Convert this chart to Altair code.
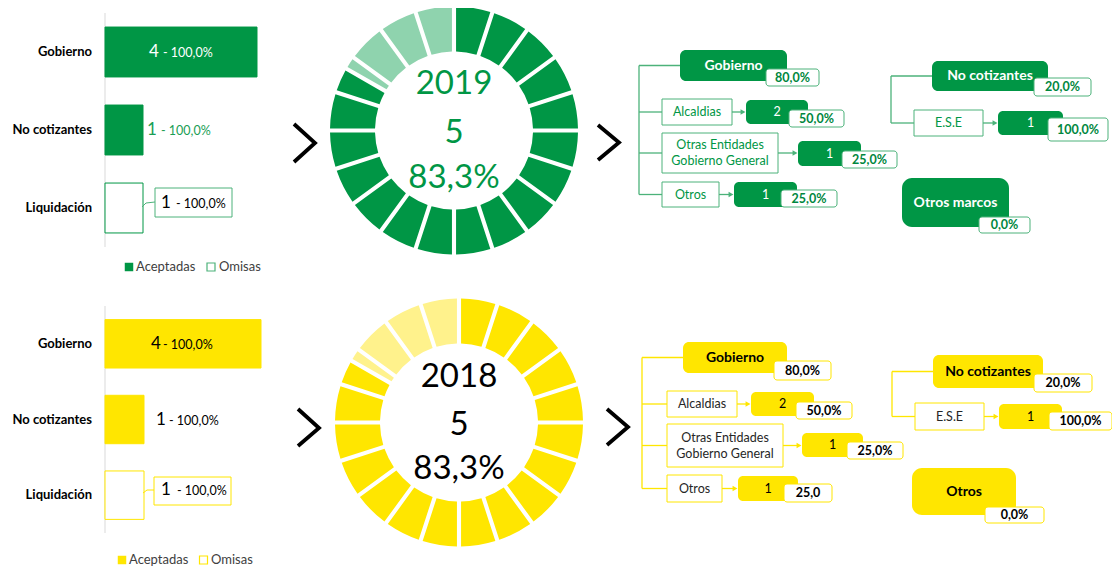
import math
import altair as alt
import pandas as pd

# ---------------- chart values ----------------
years = ["2019", "2018"]
categories = ["Gobierno", "No cotizantes", "Liquidación"]
status = ["Aceptadas", "Aceptadas", "Omisas"]
legend_labels = ["Aceptadas", "Omisas"]
counts = {"2019": [4, 1, 1], "2018": [4, 1, 1]}
shares = {"2019": ["100,0%", "100,0%", "100,0%"], "2018": ["100,0%", "100,0%", "100,0%"]}

donut_total = {"2019": 5, "2018": 5}
donut_rate = {"2019": 83.3, "2018": 83.3}
donut_slots = 20

gob_label = "Gobierno"
gob_share = {"2019": "80,0%", "2018": "80,0%"}
gob_children = ["Alcaldias", "Otras Entidades\nGobierno General", "Otros"]
gob_child_counts = {"2019": [2, 1, 1], "2018": [2, 1, 1]}
gob_child_shares = {"2019": ["50,0%", "25,0%", "25,0%"], "2018": ["50,0%", "25,0%", "25,0"]}
nocot_label = "No cotizantes"
nocot_share = {"2019": "20,0%", "2018": "20,0%"}
nocot_children = ["E.S.E"]
nocot_child_counts = {"2019": [1], "2018": [1]}
nocot_child_shares = {"2019": ["100,0%"], "2018": ["100,0%"]}
other_label = {"2019": "Otros marcos", "2018": "Otros"}
other_share = {"2019": "0,0%", "2018": "0,0%"}

# ---------------- styles ----------------
FONT = "Lato"
STYLE = {
    "2019": dict(main="#009645", light="#8fd3ae", line="#4cb27a", in_txt="white", out_txt="#1a9e55",
                 call_txt="black", center_txt="#009645", node_txt="white", child_txt="#009645",
                 pct_txt="#00873e", val_txt="white"),
    "2018": dict(main="#ffe600", light="#fff28c", line="#ffe600", in_txt="black", out_txt="black",
                 call_txt="black", center_txt="black", node_txt="black", child_txt="#262626",
                 pct_txt="black", val_txt="black"),
}

# ---------------- layout (page pixels) ----------------
LAYOUT = {
    "2019": dict(
        bar_x=(105, 257), bar_y=(13, 247), cat_x=92,
        in_dx=(-32, -18), out_dx=(4, 18), call_dx=(18, 33), call_dy=-5,
        call_box=(155, 188, 232, 217), leader=[(142, 207), (146, 203), (155, 202)],
        legend_y=267, legend_sq=(129, 211), legend_tx=(136, 219),
        donut_c=(454, 130.5), center_dy=(-47, 2, 47),
        chevrons=[[(294, 124), (315, 143), (294, 162)], [(598, 125), (619, 142.5), (598, 160)]],
        gob_box=(680, 50, 787, 81), gob_pct=(766, 69, 819, 86), trunk_x=639,
        child_boxes=[(662, 99, 732, 125), (662, 133, 778, 173), (662, 182, 719, 207)],
        child_vals=[(746, 100, 808, 124), (798, 141, 861, 166), (734, 182, 797, 207)],
        child_pcts=[(789, 110, 844, 127), (842, 151, 897, 168), (781, 190, 837, 207)],
        nocot_box=(932, 61, 1048, 91), nocot_pct=(1034, 78, 1091, 96), nocot_x=891,
        ese_boxes=[(914, 110, 983, 136)], ese_vals=[(998, 111, 1063, 135)],
        ese_pcts=[(1048, 118, 1108, 141)],
        other_box=(902, 178, 1009, 227), other_pct=(979, 217, 1030, 233),
    ),
    "2018": dict(
        bar_x=(105, 261), bar_y=(306, 533), cat_x=92,
        in_dx=(-32, -20), out_dx=(12, 25), call_dx=(17, 33), call_dy=-5,
        call_box=(154, 477, 231, 505), leader=[(143, 493), (147, 490), (154, 490)],
        legend_y=560, legend_sq=(122, 203.5), legend_tx=(129, 211),
        donut_c=(459, 422.5), center_dy=(-46, 2, 46),
        chevrons=[[(298, 409), (319, 428), (298, 446)], [(607, 409), (628, 427), (607, 445)]],
        gob_box=(683, 342, 787, 373), gob_pct=(774, 361, 831, 380), trunk_x=642,
        child_boxes=[(667, 391, 737, 417), (667, 424, 783, 467), (667, 475, 722, 502)],
        child_vals=[(751, 392, 814, 416), (802, 433, 863, 457), (738, 476, 798, 501)],
        child_pcts=[(796, 402, 852, 419), (847, 442, 903, 459), (784, 484, 832, 502)],
        nocot_box=(933, 355, 1043, 388), nocot_pct=(1034, 374, 1092, 392), nocot_x=892,
        ese_boxes=[(915, 403, 984, 430)], ese_vals=[(999, 404, 1062, 429)],
        ese_pcts=[(1049, 412, 1112, 430)],
        other_box=(912, 468, 1016, 515), other_pct=(985, 507, 1044, 523),
    ),
}

OFF = 8


def px(v):
    return v - OFF


def cx(b):
    return (b[0] + b[2]) / 2


def cy(b):
    return (b[1] + b[3]) / 2


NX = dict(scale=None, axis=None)


def rects(boxes, radius, fill, stroke=None, sw=1):
    df = pd.DataFrame([dict(x0=px(b[0]), y0=px(b[1]), x1=px(b[2]), y1=px(b[3])) for b in boxes])
    kw = dict(cornerRadius=radius, fill=fill)
    if stroke:
        kw.update(stroke=stroke, strokeWidth=sw)
    return alt.Chart(df).mark_rect(**kw).encode(
        x=alt.X("x0:Q", **NX), x2="x1:Q", y=alt.Y("y0:Q", **NX), y2="y1:Q")


def texts(rows, size, color, weight="normal", align="center"):
    df = pd.DataFrame([dict(x=px(r[0]), y=px(r[1]), t=r[2]) for r in rows])
    return alt.Chart(df).mark_text(font=FONT, fontSize=size, color=color, fontWeight=weight,
                                   align=align, baseline="middle").encode(
        x=alt.X("x:Q", **NX), y=alt.Y("y:Q", **NX), text="t:N")


def segs(rows, color, sw=1.2):
    df = pd.DataFrame([dict(x0=px(r[0]), y0=px(r[1]), x1=px(r[2]), y1=px(r[3])) for r in rows])
    return alt.Chart(df).mark_rule(color=color, strokeWidth=sw).encode(
        x=alt.X("x0:Q", **NX), x2="x1:Q", y=alt.Y("y0:Q", **NX), y2="y1:Q")


def polylines(lines, color, sw):
    rows = []
    for k, pts in enumerate(lines):
        for i, (a, b) in enumerate(pts):
            rows.append(dict(id=k, i=i, x=px(a), y=px(b)))
    return alt.Chart(pd.DataFrame(rows)).mark_line(color=color, strokeWidth=sw, strokeJoin="miter",
                                                   strokeCap="butt").encode(
        x=alt.X("x:Q", **NX), y=alt.Y("y:Q", **NX), detail="id:N", order="i:Q")


def heads(points, color):
    df = pd.DataFrame([dict(x=px(a), y=px(b)) for a, b in points])
    return alt.Chart(df).mark_point(shape="triangle-right", filled=True, size=32, color=color,
                                    opacity=1).encode(x=alt.X("x:Q", **NX), y=alt.Y("y:Q", **NX))


def child_lines(label, box):
    out = []
    lines = label.split("\n")
    for i, ln in enumerate(lines):
        out.append((cx(box), cy(box) + (i - (len(lines) - 1) / 2) * 16, ln))
    return out


layers = []
for yr in years:
    L = LAYOUT[yr]
    S = STYLE[yr]
    vals = counts[yr]
    edge = S["line"]

    # ---- bar chart ----
    xs = alt.Scale(domain=[0, max(vals)], range=[px(L["bar_x"][0]), px(L["bar_x"][1])])
    ys = alt.Scale(domain=categories, range=[px(L["bar_y"][0]), px(L["bar_y"][1])],
                   paddingInner=0.36, paddingOuter=0.18)
    bar_df = pd.DataFrame(dict(cat=categories, val=vals, status=status,
                               big=[str(v) for v in vals], small=["- " + s for s in shares[yr]],
                               half=[v / 2 for v in vals], zero=[0] * len(vals)))
    layers.append(
        alt.Chart(bar_df.iloc[:1]).mark_rule(color="#d9d9d9", strokeWidth=1).encode(
            x=alt.X("zero:Q", scale=xs, axis=None),
            y=alt.value(px(L["bar_y"][0])), y2=alt.value(px(L["bar_y"][1])))
    )
    layers.append(
        alt.Chart(bar_df).mark_bar(stroke=S["main"], strokeWidth=1).encode(
            x=alt.X("val:Q", scale=xs, axis=None),
            y=alt.Y("cat:N", scale=ys, axis=None),
            fill=alt.Fill("status:N", scale=alt.Scale(domain=legend_labels, range=[S["main"], "white"]),
                          legend=None))
    )
    layers.append(
        alt.Chart(bar_df).mark_text(font=FONT, fontSize=13, fontWeight="bold", color="black",
                                    align="right", baseline="middle").encode(
            x=alt.value(px(L["cat_x"])), y=alt.Y("cat:N", scale=ys, axis=None), text="cat:N")
    )
    # callout box + leader
    layers.append(rects([L["call_box"]], 0, "white", edge))
    layers.append(polylines([L["leader"]], edge, 1))

    modes = [("half", L["in_dx"], 0, S["in_txt"]), ("val", L["out_dx"], 0, S["out_txt"]),
             ("val", L["call_dx"], L["call_dy"], S["call_txt"])]
    for i, (field, dxs, dy, col) in enumerate(modes):
        sub = bar_df.iloc[[i]]
        layers.append(
            alt.Chart(sub).mark_text(font=FONT, fontSize=17, color=col, align="left", baseline="middle",
                                     dx=dxs[0], dy=dy).encode(
                x=alt.X(f"{field}:Q", scale=xs, axis=None), y=alt.Y("cat:N", scale=ys, axis=None),
                text="big:N"))
        layers.append(
            alt.Chart(sub).mark_text(font=FONT, fontSize=12.5, color=col, align="left", baseline="middle",
                                     dx=dxs[1], dy=dy + 1).encode(
                x=alt.X(f"{field}:Q", scale=xs, axis=None), y=alt.Y("cat:N", scale=ys, axis=None),
                text="small:N"))

    # legend
    ly = L["legend_y"]
    sq = pd.DataFrame(dict(x=[px(v) for v in L["legend_sq"]], y=[px(ly)] * 2, s=legend_labels))
    layers.append(alt.Chart(sq.iloc[[0]]).mark_point(shape="square", filled=True, size=72, color=S["main"],
                                                     opacity=1).encode(
        x=alt.X("x:Q", **NX), y=alt.Y("y:Q", **NX)))
    layers.append(alt.Chart(sq.iloc[[1]]).mark_point(shape="square", filled=False, size=64,
                                                     color=edge, strokeWidth=1.2, opacity=1).encode(
        x=alt.X("x:Q", **NX), y=alt.Y("y:Q", **NX)))
    layers.append(texts([(L["legend_tx"][0], ly, legend_labels[0]), (L["legend_tx"][1], ly, legend_labels[1])],
                        13, "#404040", align="left"))

    # ---- donut ----
    b = 360 * donut_rate[yr] / 100
    step = 360 / donut_slots
    drows = []
    for i in range(donut_slots):
        s, e = i * step, (i + 1) * step
        if e <= b:
            drows.append(dict(t0=s, t1=e, kind="on"))
        elif s >= b:
            drows.append(dict(t0=s, t1=e, kind="off"))
        else:
            drows.append(dict(t0=s, t1=b, kind="on"))
            drows.append(dict(t0=b, t1=e, kind="off"))
    dc = L["donut_c"]
    layers.append(
        alt.Chart(pd.DataFrame(drows)).mark_arc(innerRadius=79, outerRadius=124, padAngle=0.028).encode(
            theta=alt.Theta("t0:Q", scale=alt.Scale(domain=[0, 360], range=[0, 2 * math.pi]), stack=False),
            theta2="t1:Q",
            fill=alt.Fill("kind:N", scale=alt.Scale(domain=["on", "off"], range=[S["main"], S["light"]]),
                          legend=None),
            x=alt.value(px(dc[0])), y=alt.value(px(dc[1])))
    )
    pct_txt = f"{donut_rate[yr]:.1f}".replace(".", ",") + "%"
    cdy = L["center_dy"]
    layers.append(texts([(dc[0], dc[1] + cdy[0], yr), (dc[0], dc[1] + cdy[1], str(donut_total[yr])),
                         (dc[0], dc[1] + cdy[2], pct_txt)], 33, S["center_txt"]))

    # ---- chevrons ----
    layers.append(polylines(L["chevrons"], "black", 3.8))

    # ---- tree: connectors ----
    gb = L["gob_box"]
    tx = L["trunk_x"]
    cb = L["child_boxes"]
    cv = L["child_vals"]
    conn = [(tx, cy(gb), gb[0], cy(gb)), (tx, cy(gb), tx, cy(cb[-1]))]
    conn += [(tx, cy(c), c[0], cy(c)) for c in cb]
    arrows = [(c[2], cy(c), v[0] - 4, cy(c)) for c, v in zip(cb, cv)]
    heads_pts = [(v[0] - 3, cy(c)) for c, v in zip(cb, cv)]
    nb = L["nocot_box"]
    nx_ = L["nocot_x"]
    eb = L["ese_boxes"]
    ev = L["ese_vals"]
    conn += [(nx_, cy(nb), nb[0], cy(nb)), (nx_, cy(nb), nx_, cy(eb[-1]))]
    conn += [(nx_, cy(e), e[0], cy(e)) for e in eb]
    arrows += [(e[2], cy(e), v[0] - 4, cy(e)) for e, v in zip(eb, ev)]
    heads_pts += [(v[0] - 3, cy(e)) for e, v in zip(eb, ev)]
    layers.append(segs(conn + arrows, edge, 1.3))
    layers.append(heads(heads_pts, edge))

    # ---- tree: boxes ----
    layers.append(rects([gb, nb], 6, S["main"]))
    layers.append(rects([L["other_box"]], 10, S["main"]))
    layers.append(rects(cb + eb, 0, "white", edge))
    layers.append(rects(cv + ev, 5, S["main"]))
    layers.append(rects(L["child_pcts"] + L["ese_pcts"] + [L["gob_pct"], L["nocot_pct"], L["other_pct"]],
                        3, "white", edge))

    # ---- tree: texts ----
    layers.append(texts([(cx(gb), cy(gb), gob_label), (cx(nb), cy(nb), nocot_label),
                         (cx(L["other_box"]), cy(L["other_box"]), other_label[yr])],
                        14, S["node_txt"], weight="bold"))
    crow = []
    for lab, box in zip(gob_children + nocot_children, cb + eb):
        crow += child_lines(lab, box)
    layers.append(texts(crow, 12.5, S["child_txt"]))
    vrow = [(cx(v), cy(v), str(n)) for v, n in zip(cv + ev, gob_child_counts[yr] + nocot_child_counts[yr])]
    layers.append(texts(vrow, 12.5, S["val_txt"]))
    prow = [(cx(p), cy(p), t) for p, t in zip(L["child_pcts"] + L["ese_pcts"],
                                              gob_child_shares[yr] + nocot_child_shares[yr])]
    prow += [(cx(L["gob_pct"]), cy(L["gob_pct"]), gob_share[yr]),
             (cx(L["nocot_pct"]), cy(L["nocot_pct"]), nocot_share[yr]),
             (cx(L["other_pct"]), cy(L["other_pct"]), other_share[yr])]
    layers.append(texts(prow, 12.5, S["pct_txt"], weight="bold"))

chart = alt.layer(*layers).resolve_scale(
    x="independent", y="independent", fill="independent"
).properties(
    width=1104, height=564, autosize=alt.AutoSizeParams(type="none"), padding=0, background="white"
).configure_view(stroke=None)

chart.save("out.html", embed_options={"renderer": "svg", "actions": False})
